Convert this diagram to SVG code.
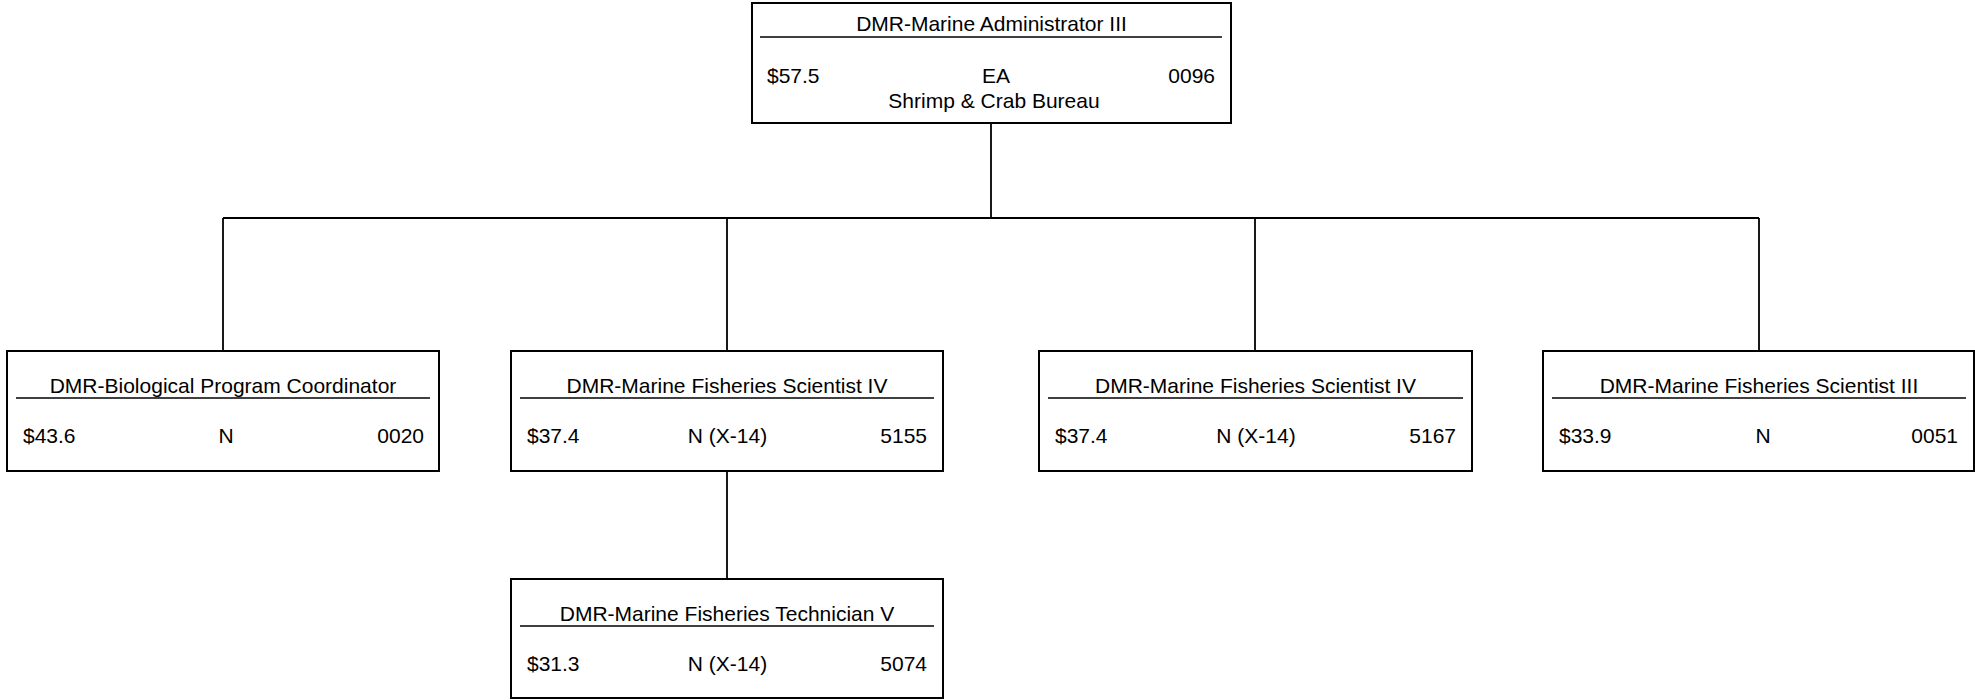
<svg xmlns="http://www.w3.org/2000/svg" width="1975" height="700" viewBox="0 0 1975 700">
<style>
.box{fill:#fff;stroke:#000;stroke-width:2}
.ul{stroke:#000;stroke-width:1.5}
.conn{fill:none;stroke:#000;stroke-width:1.8}
text{font-family:"Liberation Sans",Arial,sans-serif;font-size:21px;fill:#000}
.m{text-anchor:middle}
.r{text-anchor:end}
</style>
<rect width="1975" height="700" fill="#fff"/>
<g id="connectors">
<path class="conn" d="M991,123 V218 M223,218 H1759 M223,218 V351 M727,218 V351 M1255,218 V351 M1759,218 V351 M727,471 V579"/>
</g>
<g id="node-admin">
<rect class="box" x="752" y="3" width="479" height="120"/>
<text class="m" x="991.5" y="31">DMR-Marine Administrator III</text>
<line class="ul" x1="760" y1="37" x2="1222" y2="37"/>
<text x="767" y="83">$57.5</text>
<text class="m" x="996" y="83">EA</text>
<text class="r" x="1215" y="83">0096</text>
<text class="m" x="994" y="108">Shrimp &amp; Crab Bureau</text>
</g>
<g id="node-bio">
<rect class="box" x="7" y="351" width="432" height="120"/>
<text class="m" x="223" y="393">DMR-Biological Program Coordinator</text>
<line class="ul" x1="16" y1="398" x2="430" y2="398"/>
<text x="23" y="443">$43.6</text>
<text class="m" x="226" y="443">N</text>
<text class="r" x="424" y="443">0020</text>
</g>
<g id="node-sci4a">
<rect class="box" x="511" y="351" width="432" height="120"/>
<text class="m" x="727" y="393">DMR-Marine Fisheries Scientist IV</text>
<line class="ul" x1="520" y1="398" x2="934" y2="398"/>
<text x="527" y="443">$37.4</text>
<text class="m" x="727.5" y="443">N (X-14)</text>
<text class="r" x="927" y="443">5155</text>
</g>
<g id="node-sci4b">
<rect class="box" x="1039" y="351" width="433" height="120"/>
<text class="m" x="1255.5" y="393">DMR-Marine Fisheries Scientist IV</text>
<line class="ul" x1="1048" y1="398" x2="1463" y2="398"/>
<text x="1055" y="443">$37.4</text>
<text class="m" x="1256" y="443">N (X-14)</text>
<text class="r" x="1456" y="443">5167</text>
</g>
<g id="node-sci3">
<rect class="box" x="1543" y="351" width="431" height="120"/>
<text class="m" x="1759" y="393">DMR-Marine Fisheries Scientist III</text>
<line class="ul" x1="1552" y1="398" x2="1966" y2="398"/>
<text x="1559" y="443">$33.9</text>
<text class="m" x="1763" y="443">N</text>
<text class="r" x="1958" y="443">0051</text>
</g>
<g id="node-tech5">
<rect class="box" x="511" y="579" width="432" height="119"/>
<text class="m" x="727" y="621">DMR-Marine Fisheries Technician V</text>
<line class="ul" x1="520" y1="626" x2="934" y2="626"/>
<text x="527" y="671">$31.3</text>
<text class="m" x="727.5" y="671">N (X-14)</text>
<text class="r" x="927" y="671">5074</text>
</g>
</svg>
